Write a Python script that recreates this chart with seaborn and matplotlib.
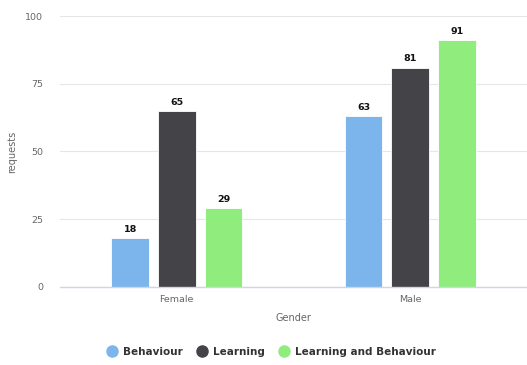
import matplotlib
matplotlib.use("Agg")
import matplotlib.pyplot as plt
from matplotlib.lines import Line2D
import seaborn as sns
import pandas as pd

genders = ["Female", "Male"]
series = ["Behaviour", "Learning", "Learning and Behaviour"]
behaviour = [18, 63]
learning = [65, 81]
learning_behaviour = [29, 91]
colors = ["#7cb5ec", "#434348", "#90ed7d"]

rows = []
for name, vals in zip(series, [behaviour, learning, learning_behaviour]):
    for g, v in zip(genders, vals):
        rows.append({"Gender": g, "series": name, "requests": v})
df = pd.DataFrame(rows)

sns.set_style("white")
plt.rcParams["font.family"] = ["DejaVu Sans"]

fig = plt.figure(figsize=(5.27, 3.65), dpi=100)
ax = fig.add_axes([0.114, 0.214, 0.886, 0.742])

sns.barplot(data=df, x="Gender", y="requests", hue="series", order=genders,
            hue_order=series, palette=colors, width=0.6, gap=0.19,
            saturation=1, ax=ax, legend=False, edgecolor="white", linewidth=0.6)

ax.set_ylim(0, 100)
ax.set_yticks([0, 25, 50, 75, 100])
ax.set_xlim(-0.5, 1.5)
ax.grid(axis="y", color="#e6e6e6", linewidth=0.8)
ax.set_axisbelow(True)
for s in ["left", "right", "top"]:
    ax.spines[s].set_visible(False)
ax.spines["bottom"].set_color("#ccd6eb")
ax.spines["bottom"].set_linewidth(1.0)
ax.tick_params(axis="both", length=0, labelsize=6.8, labelcolor="#666666")
ax.tick_params(axis="y", pad=12)
ax.tick_params(axis="x", pad=6)
ax.set_xlabel("Gender", fontsize=7, color="#666666", labelpad=6)
ax.set_ylabel("requests", fontsize=7, color="#666666", labelpad=6)

for cont in ax.containers:
    ax.bar_label(cont, fmt="%d", padding=3, fontsize=6.8, fontweight="bold", color="#111111")

handles = [Line2D([0], [0], marker="o", linestyle="", markersize=8,
                  markerfacecolor=c, markeredgecolor=c) for c in colors]
fig.legend(handles, series, loc="center", bbox_to_anchor=(0.515, 0.036), ncol=3,
           frameon=False, prop={"size": 7.5, "weight": "bold"}, labelcolor="#333333",
           handletextpad=0.5, columnspacing=1.4, handlelength=1.0)

fig.savefig("out.png", dpi=100)
